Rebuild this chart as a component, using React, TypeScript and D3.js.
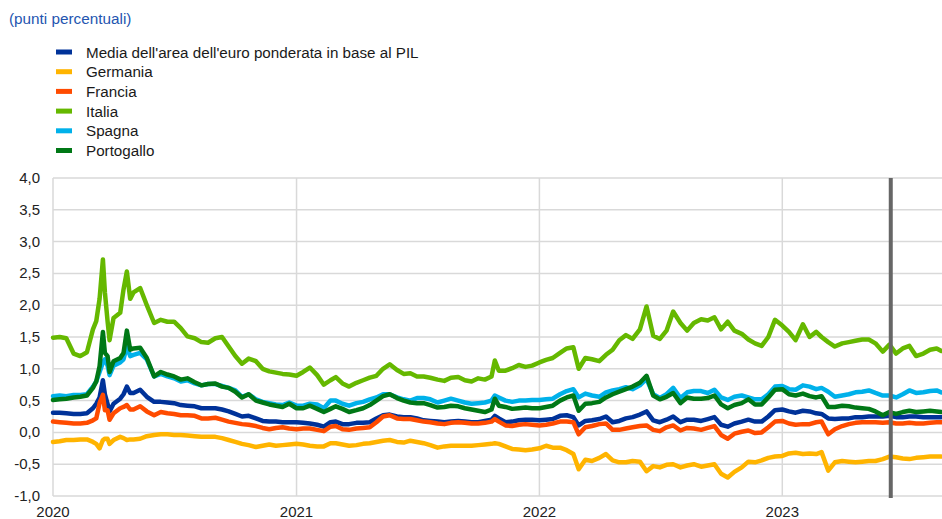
import React from "react";
import * as d3 from "d3";

// ---- categories (observation dates) ----
const dates: string[] = [
  // 2020
  "2020-01-01", "2020-01-11", "2020-01-21",
  "2020-02-01", "2020-02-11", "2020-02-21",
  "2020-03-01", "2020-03-06", "2020-03-11", "2020-03-16", "2020-03-19", "2020-03-23", "2020-03-26",
  "2020-04-01", "2020-04-11", "2020-04-16", "2020-04-21", "2020-04-26",
  "2020-05-01", "2020-05-11", "2020-05-21",
  "2020-06-01", "2020-06-11", "2020-06-21",
  "2020-07-01", "2020-07-11", "2020-07-21",
  "2020-08-01", "2020-08-11", "2020-08-21",
  "2020-09-01", "2020-09-11", "2020-09-21",
  "2020-10-01", "2020-10-11", "2020-10-21",
  "2020-11-01", "2020-11-11", "2020-11-21",
  "2020-12-01", "2020-12-11", "2020-12-21",
  // 2021
  "2021-01-01", "2021-01-11", "2021-01-21",
  "2021-02-01", "2021-02-11", "2021-02-21",
  "2021-03-01", "2021-03-11", "2021-03-21",
  "2021-04-01", "2021-04-11", "2021-04-21",
  "2021-05-01", "2021-05-11", "2021-05-21",
  "2021-06-01", "2021-06-11", "2021-06-21",
  "2021-07-01", "2021-07-11", "2021-07-21",
  "2021-08-01", "2021-08-11", "2021-08-21",
  "2021-09-01", "2021-09-11", "2021-09-21",
  "2021-10-01", "2021-10-11", "2021-10-21", "2021-10-26",
  "2021-11-01", "2021-11-11", "2021-11-21",
  "2021-12-01", "2021-12-11", "2021-12-21",
  // 2022
  "2022-01-01", "2022-01-11", "2022-01-21",
  "2022-02-01", "2022-02-11", "2022-02-21",
  "2022-03-01", "2022-03-11", "2022-03-21",
  "2022-04-01", "2022-04-11", "2022-04-21",
  "2022-05-01", "2022-05-11", "2022-05-21",
  "2022-06-01", "2022-06-11", "2022-06-21",
  "2022-07-01", "2022-07-11", "2022-07-21",
  "2022-08-01", "2022-08-11", "2022-08-21",
  "2022-09-01", "2022-09-11", "2022-09-21",
  "2022-10-01", "2022-10-11", "2022-10-21",
  "2022-11-01", "2022-11-11", "2022-11-21",
  "2022-12-01", "2022-12-11", "2022-12-21",
  // 2023
  "2023-01-01", "2023-01-11", "2023-01-21",
  "2023-02-01", "2023-02-11", "2023-02-21",
  "2023-03-01", "2023-03-11", "2023-03-21",
  "2023-04-01", "2023-04-11", "2023-04-21",
  "2023-05-01", "2023-05-11", "2023-05-21",
  "2023-06-01", "2023-06-11", "2023-06-21",
  "2023-07-01", "2023-07-11", "2023-07-21",
  "2023-08-01", "2023-08-11", "2023-08-21", "2023-08-28",
];

// ---- series values (percentage points) ----
const media: number[] = [
  0.31, 0.31, 0.30, 0.29, 0.29, 0.30, 0.38, 0.45, 0.55, 0.82, 0.60, 0.45, 0.33,
  0.45, 0.53, 0.60, 0.72, 0.62, 0.62, 0.67, 0.56, 0.48, 0.48, 0.47, 0.46, 0.43, 0.42,
  0.41, 0.38, 0.38, 0.38, 0.36, 0.33, 0.29, 0.25, 0.26, 0.22, 0.18, 0.17, 0.17, 0.16, 0.16,
  0.16, 0.15, 0.14, 0.12, 0.09, 0.16, 0.17, 0.13, 0.13, 0.15, 0.15, 0.16, 0.22, 0.27, 0.28,
  0.25, 0.24, 0.24, 0.22, 0.19, 0.18, 0.17, 0.16, 0.17, 0.18, 0.17, 0.16, 0.16, 0.18, 0.20, 0.26,
  0.22, 0.16, 0.17, 0.19, 0.20, 0.20,
  0.19, 0.20, 0.21, 0.26, 0.27, 0.24, 0.11, 0.18, 0.19, 0.21, 0.25, 0.16, 0.18, 0.22, 0.24,
  0.28, 0.33, 0.19, 0.16, 0.20, 0.25, 0.16, 0.20, 0.20, 0.18, 0.21, 0.24, 0.12, 0.09, 0.14,
  0.17, 0.20, 0.17, 0.17, 0.25, 0.35,
  0.36, 0.33, 0.31, 0.34, 0.33, 0.30, 0.29, 0.22, 0.21, 0.22, 0.22, 0.24, 0.24, 0.25, 0.25,
  0.25, 0.26, 0.24, 0.24, 0.25, 0.25, 0.24, 0.24, 0.24, 0.24,
];
const germania: number[] = [
  -0.15, -0.14, -0.12, -0.12, -0.11, -0.11, -0.15, -0.18, -0.25, -0.12, -0.10, -0.10, -0.18,
  -0.12, -0.07, -0.09, -0.12, -0.11, -0.11, -0.10, -0.06, -0.04, -0.03, -0.03, -0.04, -0.04, -0.05,
  -0.06, -0.07, -0.07, -0.07, -0.09, -0.12, -0.15, -0.18, -0.20, -0.23, -0.21, -0.19, -0.21, -0.20, -0.19,
  -0.18, -0.19, -0.21, -0.22, -0.22, -0.17, -0.17, -0.19, -0.21, -0.20, -0.18, -0.17, -0.15, -0.13, -0.12,
  -0.15, -0.16, -0.13, -0.15, -0.17, -0.20, -0.24, -0.22, -0.21, -0.21, -0.21, -0.21, -0.20, -0.19, -0.18, -0.17,
  -0.18, -0.22, -0.26, -0.27, -0.28, -0.27,
  -0.25, -0.21, -0.24, -0.24, -0.28, -0.34, -0.58, -0.43, -0.45, -0.40, -0.34, -0.44, -0.47, -0.47, -0.45,
  -0.46, -0.61, -0.53, -0.55, -0.51, -0.50, -0.55, -0.52, -0.50, -0.54, -0.52, -0.50, -0.65, -0.71, -0.62,
  -0.55, -0.46, -0.47, -0.44, -0.40, -0.38,
  -0.37, -0.33, -0.32, -0.34, -0.33, -0.34, -0.31, -0.60, -0.47, -0.45, -0.46, -0.47, -0.46, -0.45, -0.45,
  -0.42, -0.38, -0.39, -0.41, -0.42, -0.40, -0.39, -0.38, -0.38, -0.38,
];
const francia: number[] = [
  0.17, 0.16, 0.15, 0.14, 0.14, 0.15, 0.19, 0.22, 0.46, 0.59, 0.35, 0.35, 0.20,
  0.30, 0.38, 0.40, 0.43, 0.36, 0.36, 0.41, 0.33, 0.27, 0.32, 0.30, 0.29, 0.27, 0.27,
  0.26, 0.22, 0.22, 0.23, 0.20, 0.17, 0.15, 0.13, 0.12, 0.10, 0.07, 0.05, 0.07, 0.08, 0.06,
  0.05, 0.06, 0.06, 0.04, 0.02, 0.09, 0.10, 0.05, 0.04, 0.06, 0.07, 0.08, 0.16, 0.25, 0.27,
  0.22, 0.21, 0.21, 0.19, 0.17, 0.16, 0.14, 0.13, 0.15, 0.16, 0.15, 0.14, 0.14, 0.15, 0.17, 0.21,
  0.17, 0.11, 0.10, 0.12, 0.13, 0.12,
  0.11, 0.12, 0.14, 0.17, 0.17, 0.16, -0.03, 0.08, 0.10, 0.13, 0.14, 0.04, 0.04, 0.06, 0.08,
  0.10, 0.11, 0.04, 0.02, 0.08, 0.11, 0.03, 0.07, 0.06, 0.04, 0.07, 0.10, -0.04, -0.10, -0.02,
  0.01, 0.03, -0.01, 0.00, 0.08, 0.17,
  0.18, 0.14, 0.12, 0.13, 0.13, 0.16, 0.17, -0.03, 0.05, 0.10, 0.13, 0.15, 0.16, 0.16, 0.16,
  0.15, 0.16, 0.14, 0.14, 0.15, 0.14, 0.14, 0.15, 0.16, 0.16,
];
const italia: number[] = [
  1.49, 1.50, 1.48, 1.24, 1.20, 1.26, 1.62, 1.75, 2.10, 2.72, 2.20, 1.75, 1.45,
  1.80, 1.88, 2.25, 2.53, 2.10, 2.20, 2.27, 2.00, 1.72, 1.77, 1.74, 1.74, 1.64, 1.51,
  1.48, 1.42, 1.41, 1.48, 1.50, 1.35, 1.20, 1.08, 1.16, 1.12, 1.00, 0.96, 0.94, 0.92, 0.91,
  0.89, 0.95, 1.02, 0.90, 0.75, 0.82, 0.87, 0.77, 0.72, 0.78, 0.82, 0.86, 0.89, 1.00, 1.07,
  0.98, 0.92, 0.93, 0.88, 0.88, 0.86, 0.83, 0.81, 0.86, 0.87, 0.82, 0.80, 0.85, 0.83, 0.88, 1.13,
  0.97, 0.97, 1.01, 1.06, 1.03, 1.05,
  1.10, 1.14, 1.17, 1.25, 1.32, 1.34, 1.00, 1.17, 1.15, 1.12, 1.22, 1.30, 1.45, 1.53, 1.47,
  1.62, 1.98, 1.52, 1.47, 1.60, 1.90, 1.72, 1.60, 1.72, 1.78, 1.76, 1.81, 1.62, 1.74, 1.60,
  1.55, 1.46, 1.40, 1.36, 1.50, 1.77,
  1.68, 1.58, 1.45, 1.70, 1.50, 1.58, 1.50, 1.42, 1.35, 1.40, 1.42, 1.44, 1.46, 1.46, 1.40,
  1.27, 1.38, 1.24, 1.32, 1.36, 1.20, 1.24, 1.30, 1.32, 1.28,
];
const spagna: number[] = [
  0.57, 0.58, 0.57, 0.59, 0.59, 0.60, 0.72, 0.80, 0.95, 1.10, 1.15, 1.05, 0.90,
  1.05, 1.10, 1.15, 1.35, 1.20, 1.22, 1.25, 1.15, 0.88, 0.92, 0.88, 0.85, 0.80, 0.82,
  0.77, 0.74, 0.76, 0.76, 0.73, 0.70, 0.66, 0.56, 0.60, 0.52, 0.48, 0.46, 0.44, 0.43, 0.47,
  0.42, 0.42, 0.45, 0.44, 0.38, 0.50, 0.50, 0.45, 0.42, 0.46, 0.48, 0.52, 0.55, 0.60, 0.60,
  0.55, 0.52, 0.50, 0.54, 0.54, 0.52, 0.47, 0.50, 0.53, 0.50, 0.47, 0.45, 0.46, 0.47, 0.50, 0.58,
  0.55, 0.50, 0.48, 0.50, 0.50, 0.51,
  0.51, 0.52, 0.53, 0.60, 0.65, 0.68, 0.55, 0.61, 0.58, 0.56, 0.63, 0.66, 0.68, 0.71, 0.68,
  0.74, 0.84, 0.60, 0.54, 0.60, 0.70, 0.54, 0.63, 0.65, 0.65, 0.62, 0.67, 0.55, 0.51, 0.56,
  0.58, 0.55, 0.52, 0.52, 0.60, 0.72,
  0.73, 0.68, 0.67, 0.74, 0.72, 0.68, 0.70, 0.64, 0.56, 0.58, 0.60, 0.63, 0.64, 0.66, 0.62,
  0.58, 0.58, 0.55, 0.60, 0.66, 0.62, 0.63, 0.65, 0.66, 0.63,
];
const portogallo: number[] = [
  0.51, 0.52, 0.53, 0.55, 0.56, 0.58, 0.70, 0.80, 1.04, 1.58, 1.25, 1.20, 0.95,
  1.12, 1.17, 1.25, 1.60, 1.30, 1.32, 1.33, 1.17, 0.88, 0.95, 0.91, 0.88, 0.83, 0.85,
  0.79, 0.74, 0.76, 0.77, 0.72, 0.70, 0.64, 0.55, 0.60, 0.50, 0.47, 0.44, 0.42, 0.40, 0.45,
  0.38, 0.38, 0.42, 0.37, 0.32, 0.37, 0.41, 0.37, 0.32, 0.35, 0.38, 0.43, 0.50, 0.57, 0.60,
  0.54, 0.50, 0.47, 0.46, 0.46, 0.43, 0.39, 0.40, 0.42, 0.41, 0.38, 0.36, 0.34, 0.32, 0.36, 0.53,
  0.42, 0.40, 0.37, 0.38, 0.39, 0.38,
  0.38, 0.40, 0.42, 0.50, 0.55, 0.58, 0.34, 0.45, 0.46, 0.48, 0.55, 0.60, 0.64, 0.68, 0.72,
  0.78, 0.89, 0.58, 0.52, 0.56, 0.62, 0.46, 0.55, 0.53, 0.53, 0.54, 0.58, 0.44, 0.38, 0.43,
  0.46, 0.52, 0.44, 0.44, 0.55, 0.67,
  0.68, 0.60, 0.58, 0.61, 0.57, 0.55, 0.57, 0.40, 0.40, 0.42, 0.41, 0.39, 0.38, 0.37, 0.33,
  0.27, 0.32, 0.29, 0.32, 0.34, 0.32, 0.33, 0.34, 0.33, 0.32,
];

const seriesNames = [
  "Media dell'area dell'euro ponderata in base al PIL",
  "Germania",
  "Francia",
  "Italia",
  "Spagna",
  "Portogallo",
];
const seriesColors = ["#003299", "#ffb400", "#ff4b00", "#65b800", "#00b1ea", "#007816"];
const seriesValues = [media, germania, francia, italia, spagna, portogallo];

const yTicks = [-1, -0.5, 0, 0.5, 1, 1.5, 2, 2.5, 3, 3.5, 4];
const xTickYears = ["2020-01-01", "2021-01-01", "2022-01-01", "2023-01-01"];
const markerDate = "2023-06-13";
const domainStart = "2020-01-01";
const domainEnd = "2023-08-29";
const unitLabel = "(punti percentuali)";

const W = 942;
const H = 519;
const M = { left: 53, right: 942, top: 178, bottom: 496 };

export default function App() {
  const parse = d3.timeParse("%Y-%m-%d");
  const x = d3
    .scaleTime()
    .domain([parse(domainStart)!, parse(domainEnd)!])
    .range([M.left, M.right]);
  const y = d3.scaleLinear().domain([-1, 4]).range([M.bottom, M.top]);
  const loc = d3.formatLocale({ decimal: ",", thousands: ".", grouping: [3], currency: ["€", ""] });
  const fmt = loc.format(".1f");
  const parsedDates = dates.map((d) => parse(d)!);

  const line = d3
    .line<number>()
    .x((_, i) => x(parsedDates[i]))
    .y((v) => y(v))
    .curve(d3.curveLinear);

  const font = "'Liberation Sans', Arial, sans-serif";

  return (
    <svg
      width={W}
      height={H}
      style={{ position: "absolute", left: 0, top: 0, background: "#fff" }}
      fontFamily={font}
    >
      <text x={9} y={24} fontSize={15.3} fill="#2455b0">
        {unitLabel}
      </text>
      {seriesNames.map((n, i) => (
        <g key={n} transform={`translate(0, ${52 + i * 19.7})`}>
          <rect x={56} y={-2.5} width={16} height={5} fill={seriesColors[i]} />
          <text x={86} y={5.5} fontSize={15.2} fill="#1a1a1a">
            {n}
          </text>
        </g>
      ))}
      {/* horizontal grid */}
      {yTicks.map((t) => (
        <g key={t}>
          <line x1={M.left} x2={M.right} y1={y(t)} y2={y(t)} stroke="#d9d9d9" strokeWidth={1.5} />
          <text x={40} y={y(t) + 5} fontSize={15} textAnchor="end" fill="#222">
            {t < 0 ? "-" + fmt(-t) : fmt(t)}
          </text>
        </g>
      ))}
      {/* vertical grid */}
      {xTickYears.map((d) => {
        const xv = x(parse(d)!);
        return (
          <g key={d}>
            <line x1={xv} x2={xv} y1={M.top} y2={M.bottom} stroke="#d9d9d9" strokeWidth={1.5} />
            <text x={xv} y={517} fontSize={15} textAnchor="middle" fill="#222">
              {d.slice(0, 4)}
            </text>
          </g>
        );
      })}
      {seriesValues.map((vals, i) => (
        <path
          key={seriesNames[i]}
          d={line(vals) || ""}
          fill="none"
          stroke={seriesColors[i]}
          strokeWidth={4.5}
          strokeLinejoin="round"
          strokeLinecap="round"
        />
      ))}
      <line
        x1={x(parse(markerDate)!)}
        x2={x(parse(markerDate)!)}
        y1={M.top}
        y2={M.bottom + 2}
        stroke="#666666"
        strokeWidth={4}
      />
    </svg>
  );
}
